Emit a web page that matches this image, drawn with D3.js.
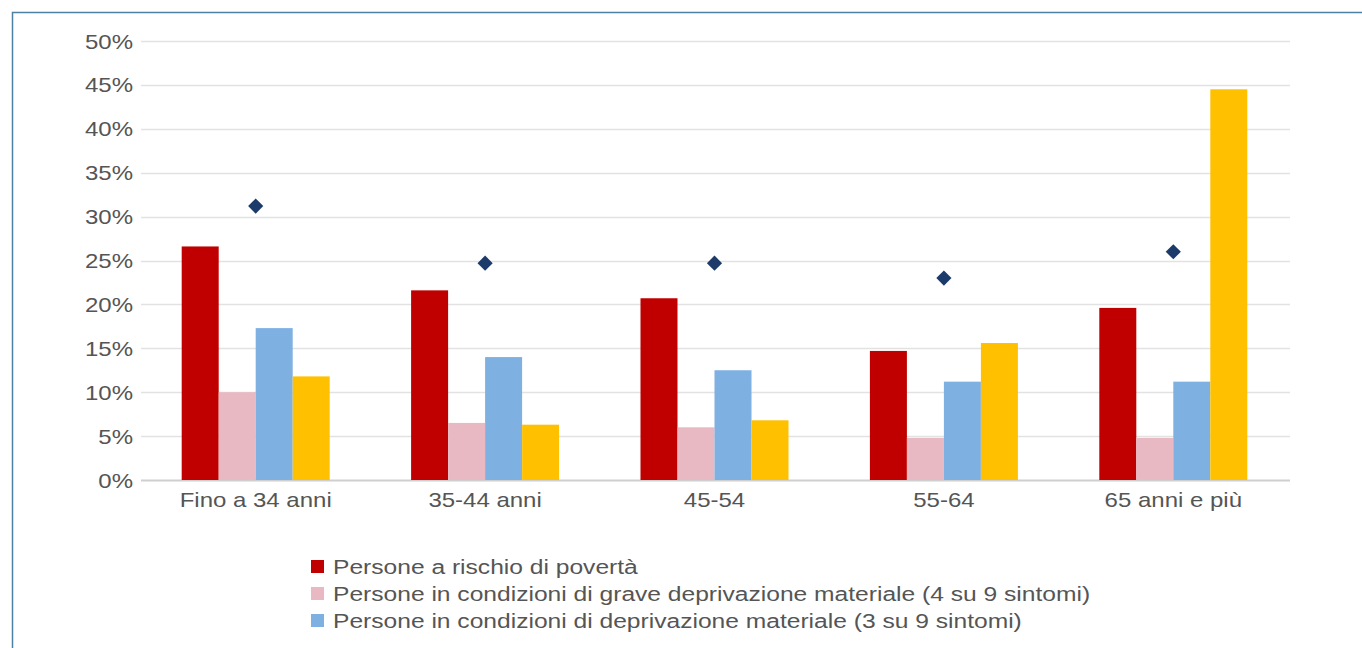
<!DOCTYPE html>
<html>
<head>
<meta charset="utf-8">
<script src="https://cdn.jsdelivr.net/npm/d3@7"></script>
<style>
    body { margin: 0; background: #fff; }
    svg { display: block; font-family: "Liberation Sans", Arial, sans-serif; }
</style>
</head>
<body>
<div id="chart"></div>
<script>
// categories (age groups)
let categories = ["Fino a 34 anni", "35-44 anni", "45-54", "55-64", "65 anni e più"];

// bar series, values in %
let rischioPoverta = [26.6, 21.6, 20.7, 14.7, 19.6];
let graveDeprivazione = [10.0, 6.5, 6.0, 4.8, 4.8];
let deprivazione = [17.3, 14.0, 12.5, 11.2, 11.2];
let quartaSerie = [11.8, 6.3, 6.8, 15.6, 44.5];

// diamond markers
let marker = [31.2, 24.7, 24.7, 23.0, 26.0];

let yTicks = [0, 5, 10, 15, 20, 25, 30, 35, 40, 45, 50];

let legendLabels = [
    "Persone a rischio di povertà",
    "Persone in condizioni di grave deprivazione materiale (4 su 9 sintomi)",
    "Persone in condizioni di deprivazione materiale (3 su 9 sintomi)"
];

let seriesKeys = ["rischio", "grave", "depr", "quarta"];
let colors = ["#c00000", "#e8b8c3", "#7fb0e2", "#ffc000"];

let data = categories.map((c, i) => ({
    cat: c,
    values: [rischioPoverta[i], graveDeprivazione[i], deprivazione[i], quartaSerie[i]],
    marker: marker[i]
}));

let width = 1362, height = 648;
// the source text is a bit stretched sideways
let stretch = 1.2;

let svg = d3.select("#chart").append("svg")
    .attr("width", width)
    .attr("height", height);

// frame
svg.append("rect")
    .attr("x", 12.5).attr("y", 12.5)
    .attr("width", 1360).attr("height", 700)
    .attr("fill", "none")
    .attr("stroke", "#4f80a3")
    .attr("stroke-width", 1.5);

let plotLeft = 141, plotRight = 1288;
let y = d3.scaleLinear().domain([0, 50]).range([480, 41]);
let x0 = d3.scaleBand().domain(categories).range([plotLeft, plotRight]).padding(0);
let x1 = d3.scaleBand().domain(seriesKeys).range([0, x0.bandwidth()]).paddingInner(0).paddingOuter(1.1);

// gridlines
svg.append("g")
    .selectAll("line")
    .data(yTicks)
    .join("line")
    .attr("x1", plotLeft)
    .attr("x2", plotRight + 2)
    .attr("y1", d => Math.round(y(d)) + 0.5)
    .attr("y2", d => Math.round(y(d)) + 0.5)
    .attr("stroke", d => d === 0 ? "#cfcfcf" : "#e2e2e2")
    .attr("stroke-width", d => d === 0 ? 2 : 1.5);

// y axis labels
let yAxis = svg.append("g")
    .attr("transform", `translate(${plotLeft - 8},0)`)
    .call(d3.axisLeft(y).tickValues(yTicks).tickFormat(d => d + "%").tickSize(0));
yAxis.select(".domain").remove();
yAxis.selectAll("text")
    .attr("x", 0)
    .attr("fill", "#555")
    .style("font-size", "20px")
    .attr("dy", "0.35em")
    .attr("transform", `scale(${stretch},1)`);

// x axis labels
let xAxis = svg.append("g")
    .attr("transform", "translate(0,480)")
    .call(d3.axisBottom(x0).tickSize(0));
xAxis.select(".domain").remove();
xAxis.selectAll("text")
    .attr("fill", "#555")
    .style("font-size", "20px")
    .attr("dy", "1.0em")
    .attr("y", 7)
    .attr("transform", `scale(${stretch},1)`);

// bars
let groups = svg.append("g")
    .selectAll("g")
    .data(data)
    .join("g")
    .attr("transform", d => `translate(${x0(d.cat)},0)`);

groups.selectAll("rect")
    .data(d => d.values.map((v, i) => ({key: seriesKeys[i], value: v, idx: i})))
    .join("rect")
    .attr("x", d => x1(d.key))
    .attr("width", x1.bandwidth())
    .attr("y", d => y(d.value))
    .attr("height", d => y(0) - y(d.value))
    .attr("fill", d => colors[d.idx]);

// diamond markers
svg.append("g")
    .selectAll("path")
    .data(data)
    .join("path")
    .attr("d", d3.symbol().type(d3.symbolSquare).size(115))
    .attr("transform", d => `translate(${x0(d.cat) + x0.bandwidth() / 2},${y(d.marker)}) rotate(45)`)
    .attr("fill", "#1c3b6b");

// legend
let legend = svg.append("g")
    .attr("transform", "translate(311,567)");
let items = legend.selectAll("g")
    .data(legendLabels)
    .join("g")
    .attr("transform", (d, i) => `translate(0,${i * 27})`);
items.append("rect")
    .attr("x", 0).attr("y", -7)
    .attr("width", 13).attr("height", 13)
    .attr("fill", (d, i) => colors[i]);
items.append("text")
    .attr("transform", "translate(22,0) scale(1.23,1)")
    .attr("dy", "0.35em")
    .attr("fill", "#555")
    .style("font-size", "20px")
    .text(d => d);
</script>
</body>
</html>
